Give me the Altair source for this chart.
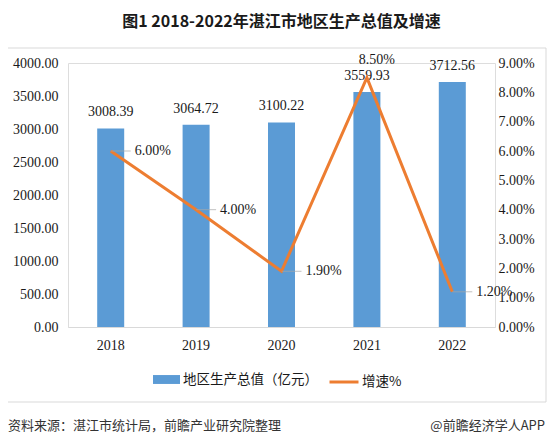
import altair as alt
import pandas as pd

# ---- data ----
years = ["2018", "2019", "2020", "2021", "2022"]
gdp = [3008.39, 3064.72, 3100.22, 3559.93, 3712.56]
growth = [0.060, 0.040, 0.019, 0.085, 0.012]
bar_name = "地区生产总值（亿元）"
line_name = "增速%"
left_ticks = [0, 500, 1000, 1500, 2000, 2500, 3000, 3500, 4000]
right_ticks = [0.00, 0.01, 0.02, 0.03, 0.04, 0.05, 0.06, 0.07, 0.08, 0.09]
title_text = "图1 2018-2022年湛江市地区生产总值及增速"
source_note = "资料来源：湛江市统计局，前瞻产业研究院整理"
brand_note = "@前瞻经济学人APP"

BLUE = "#5B9BD5"
ORANGE = "#ED7D31"
SERIF = "Liberation Serif"
CJK = "Noto Sans CJK SC"
TXT = "#1a1a1a"

df = pd.DataFrame({"year": years, "gdp": gdp, "growth": growth})
df["bar_series"] = bar_name
df["line_series"] = line_name

W, H = 427, 264

x_enc = alt.X(
    "year:N",
    sort=years,
    scale=alt.Scale(paddingInner=0, paddingOuter=0),
    axis=alt.Axis(title=None, labelAngle=0, ticks=False, domainColor="#D9D9D9",
                  labelFont=SERIF, labelFontSize=14, labelColor=TXT, labelPadding=11,
                  grid=False),
)

y_left = alt.Y(
    "gdp:Q",
    scale=alt.Scale(domain=[0, 4000], nice=False),
    axis=alt.Axis(title=None, values=left_ticks, format=".2f", domain=False, ticks=False,
                  grid=False, labelFont=SERIF, labelFontSize=14, labelColor=TXT,
                  labelPadding=10, orient="left"),
)
y_right = alt.Y(
    "growth:Q",
    scale=alt.Scale(domain=[0, 0.09], nice=False),
    axis=alt.Axis(title=None, values=right_ticks, format=".2%", domain=False, ticks=False,
                  grid=False, labelFont=SERIF, labelFontSize=14, labelColor=TXT,
                  labelPadding=3, orient="right"),
)

base = alt.Chart(df)

bars = base.mark_bar(size=27).encode(
    x=x_enc,
    color=alt.Color("bar_series:N", scale=alt.Scale(range=[BLUE]),
                    legend=alt.Legend(title=None, orient="none", legendX=85, legendY=303,
                                      padding=0, symbolType="M-1,-0.33L1,-0.33L1,0.33L-1,0.33Z",
                                      symbolSize=729, symbolStrokeWidth=0, labelOffset=3,
                                      labelFont=CJK, labelFontSize=13.5, labelColor=TXT)),
)
bar_labels = base.mark_text(dy=-16, font=SERIF, fontSize=14, color=TXT).encode(
    x=x_enc, text=alt.Text("gdp:Q", format=".2f")
)
left_layer = alt.layer(bars, bar_labels).encode(y=y_left)

line = base.mark_line(strokeWidth=3).encode(
    x=x_enc,
    stroke=alt.Stroke("line_series:N", scale=alt.Scale(range=[ORANGE]),
                      legend=alt.Legend(title=None, orient="none", legendX=260, legendY=303,
                                        padding=0, symbolType="stroke", symbolSize=841,
                                        symbolStrokeWidth=3, labelOffset=2,
                                        labelFont=CJK, labelFontSize=13.5, labelColor=TXT)),
)
side = base.transform_filter(alt.datum.year != "2021")
leaders = side.mark_tick(size=20, thickness=1, xOffset=10, color="#A6A6A6").encode(x=x_enc)
line_labels_side = side.mark_text(dx=24, align="left", baseline="middle", font=SERIF,
                                  fontSize=14, color=TXT).encode(
    x=x_enc, text=alt.Text("growth:Q", format=".2%"))
line_label_top = base.transform_filter(alt.datum.year == "2021").mark_text(
    dx=10, dy=-18, align="center", baseline="middle", font=SERIF, fontSize=14, color=TXT
).encode(x=x_enc, text=alt.Text("growth:Q", format=".2%"))
right_layer = alt.layer(line, leaders, line_labels_side, line_label_top).encode(y=y_right)

frame = alt.Chart(pd.DataFrame({"k": [0]})).mark_rect(
    fill="transparent", stroke="#D9D9D9", strokeWidth=1
).encode(x=alt.value(-65), x2=alt.value(478), y=alt.value(-15), y2=alt.value(339))

notes = pd.DataFrame({"left": [source_note], "right": [brand_note]})
foot_left = alt.Chart(notes).mark_text(align="left", baseline="middle", font=CJK,
                                       fontSize=13, color="#333333").encode(
    x=alt.value(-60), y=alt.value(363), text="left:N")
foot_right = alt.Chart(notes).mark_text(align="right", baseline="middle", font=CJK,
                                        fontSize=13, color="#333333").encode(
    x=alt.value(477), y=alt.value(363), text="right:N")

chart = alt.layer(frame, left_layer, right_layer, foot_left, foot_right).resolve_scale(
    y="independent", color="independent", stroke="independent"
).properties(
    width=W, height=H,
    title=alt.TitleParams(title_text, fontSize=16, fontWeight="bold", font=CJK, color=TXT,
                          anchor="middle", offset=18),
    autosize=alt.AutoSizeParams(type="none"),
    padding={"left": 60, "top": 55, "right": 52, "bottom": 109},
).configure_view(stroke=None).configure(background="white")

chart.save("out.html", embed_options={"renderer": "svg", "actions": False})
